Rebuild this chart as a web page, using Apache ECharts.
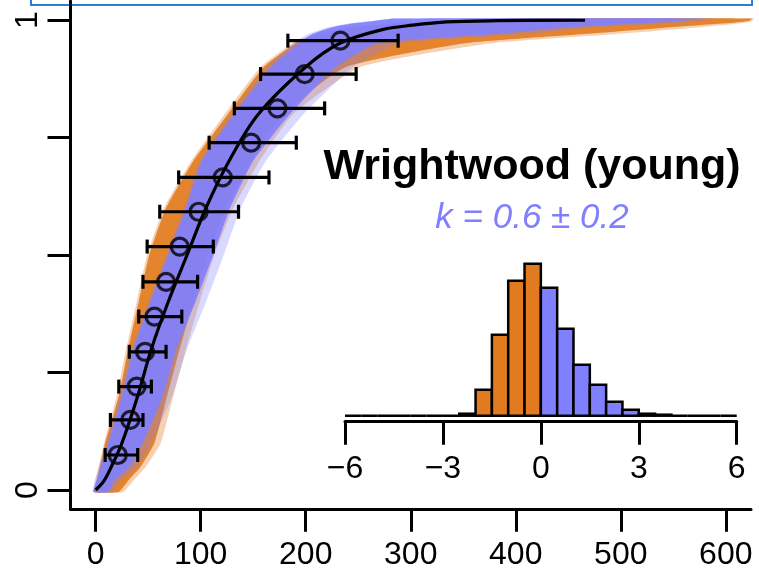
<!DOCTYPE html>
<html><head><meta charset="utf-8">
<script src="https://cdn.jsdelivr.net/npm/echarts@6/dist/echarts.min.js"></script>
<style>html,body{margin:0;padding:0;background:#fff}#c{width:759px;height:578px}</style>
</head><body><div id="c"></div>
<script>
// ---- axes ----
const xTicks = [0, 100, 200, 300, 400, 500, 600];
const yTicks = [0, 0.25, 0.5, 0.75, 1];
const yTickLabels = [0, 1];
const histTicks = [-6, -3, 0, 3, 6];

// ---- observed points with horizontal error bars ----
const ptY   = [0.0745, 0.149, 0.220, 0.294, 0.369, 0.443, 0.518, 0.592, 0.665, 0.739, 0.812, 0.885, 0.956];
const ptX   = [21, 33, 39, 47, 56, 67, 80, 98, 121, 148, 173, 199, 233];
const errLo = [9, 14, 22, 32, 41, 45, 49, 61, 79, 108, 132, 157, 183];
const errHi = [40, 45, 53, 67, 82, 97, 112, 136, 165, 191, 218, 248, 288];

// ---- best-fit curve (black) ----
const fitX = [0, 8, 15, 25, 40, 53, 69, 87, 105, 127, 155, 200, 232, 272, 302, 334, 382, 466];
const fitY = [0, 0.02, 0.05, 0.1, 0.2, 0.3, 0.4, 0.5, 0.6, 0.7, 0.8, 0.9, 0.95, 0.979, 0.989, 0.996, 0.9985, 0.9995];

// ---- sampled-curve envelopes (x at each cumulative level) ----
const levels          = [-0.004, 0.02, 0.05, 0.1, 0.2, 0.3, 0.4, 0.5, 0.6, 0.7, 0.8, 0.9, 0.95, 0.97, 0.985, 0.993, 0.998, 1.003];
const blueLeft        = [-2, 1, 5, 12, 25, 36, 52, 69, 86, 101, 132, 167, 193, 206, 226, 245, 265, 285];
const blueRight       = [12, 18, 33, 45, 64, 77, 95, 112, 128, 150, 185, 229, 268, 382, 455, 520, 560, 578];
const blueFringeLeft  = [-2, -1, 3, 10, 23, 34, 50, 67, 84, 99, 129, 163, 188, 202, 222, 242, 263, 285];
const blueFringeRight = [16, 24, 40, 53, 73, 87, 105, 122, 138, 162, 198, 245, 290, 410, 480, 545, 580, 590];
const orangeLeft        = [-2, 1, 4, 9, 22, 31, 41, 51, 67, 93, 126, 160, 190, 212, 245, 290, 340, 400];
const orangeRight       = [22, 31, 43, 56, 68, 80, 93, 107, 124, 148, 178, 238, 350, 465, 550, 600, 622, 625];
const orangeFringeLeft  = [-2, 0, 3, 8, 20, 29, 39, 49, 65, 91, 123, 157, 187, 209, 242, 286, 335, 395];
const orangeFringeRight = [26, 36, 48, 62, 74, 86, 99, 113, 131, 156, 188, 252, 375, 495, 578, 614, 625, 627];

// ---- inset histogram of k ----
const binEdges = [-6, -5.5, -5, -4.5, -4, -3.5, -3, -2.5, -2, -1.5, -1, -0.5, 0, 0.5, 1, 1.5, 2, 2.5, 3, 3.5, 4, 4.5, 5, 5.5, 6];
const binCounts = [0, 0, 0, 0, 0, 0, 0, 2, 26, 81, 135, 152, 128, 87, 51, 31, 14, 6, 2, 1, 0, 0, 0, 0];

const titleText = 'Wrightwood (young)';
const kText = 'k = 0.6 \u00b1 0.2';

const ORANGE = '#E27B1F';
const BLUE = '#8080FF';
const FONT = '"Liberation Sans", Arial, Helvetica, sans-serif';

function band(left, right, color, opacity) {
  return {
    type: 'custom', xAxisIndex: 0, yAxisIndex: 0, silent: true, animation: false,
    data: levels.map((y, i) => [left[i], y]),
    renderItem: function (params, api) {
      if (params.dataIndex !== 0) return null;
      const pts = [];
      for (let i = 0; i < levels.length; i++) pts.push(api.coord([left[i], levels[i]]));
      for (let i = levels.length - 1; i >= 0; i--) pts.push(api.coord([right[i], levels[i]]));
      return { type: 'polygon', shape: { points: pts, smooth: 0.15 }, style: { fill: color, opacity: opacity } };
    }
  };
}

const chart = echarts.init(document.getElementById('c'), null, { renderer: 'canvas' });
const axisLineStyle = { color: '#000', width: 3 };

chart.setOption({
  animation: false,
  backgroundColor: '#fff',
  grid: [
    { left: 70.5, top: 1.2, width: 680.5, height: 507.6 },
    { left: 345, top: 255.7, width: 391.7, height: 160 }
  ],
  xAxis: [
    { gridIndex: 0, type: 'value', min: -24, max: 624,
      axisLine: { show: true, onZero: false, lineStyle: axisLineStyle },
      axisTick: { show: true, customValues: xTicks, length: 23, lineStyle: axisLineStyle },
      axisLabel: { customValues: xTicks, fontSize: 32, color: '#000', margin: 30, fontFamily: FONT },
      splitLine: { show: false } },
    { gridIndex: 1, type: 'value', min: -6, max: 6, interval: 3, offset: 6,
      axisLine: { show: true, onZero: false, lineStyle: axisLineStyle },
      axisTick: { show: true, customValues: histTicks, length: 23, lineStyle: axisLineStyle },
      axisLabel: { customValues: histTicks, fontSize: 32, color: '#000', margin: 31, fontFamily: FONT,
        formatter: v => String(v).replace('-', '\u2212') },
      splitLine: { show: false } }
  ],
  yAxis: [
    { gridIndex: 0, type: 'value', min: -0.04, max: 1.04,
      axisLine: { show: true, onZero: false, lineStyle: axisLineStyle },
      axisTick: { show: true, customValues: yTicks, length: 23, lineStyle: axisLineStyle },
      axisLabel: { customValues: yTickLabels, rotate: 90, fontSize: 32, color: '#000', margin: 26, fontFamily: FONT },
      splitLine: { show: false } },
    { gridIndex: 1, type: 'value', min: 0, max: 160, show: false }
  ],
  series: [
    band(orangeFringeLeft, orangeFringeRight, ORANGE, 0.35),
    band(orangeLeft, orangeRight, ORANGE, 0.9),
    band(blueFringeLeft, blueFringeRight, BLUE, 0.3),
    band(blueLeft, blueRight, BLUE, 0.9),
    { type: 'line', xAxisIndex: 0, yAxisIndex: 0, data: fitX.map((x, i) => [x, fitY[i]]),
      smooth: 0.35, showSymbol: false, symbol: 'none',
      lineStyle: { color: '#000', width: 3.2 }, z: 3 },
    { type: 'custom', xAxisIndex: 0, yAxisIndex: 0, z: 4,
      data: ptY.map((y, i) => [errLo[i], errHi[i], y]),
      encode: { x: [0, 1], y: 2 },
      renderItem: function (params, api) {
        const a = api.coord([api.value(0), api.value(2)]);
        const b = api.coord([api.value(1), api.value(2)]);
        const h = 7;
        const st = { stroke: '#000', lineWidth: 3.2 };
        return { type: 'group', children: [
          { type: 'line', shape: { x1: a[0], y1: a[1], x2: b[0], y2: b[1] }, style: st },
          { type: 'line', shape: { x1: a[0], y1: a[1] - h, x2: a[0], y2: a[1] + h }, style: st },
          { type: 'line', shape: { x1: b[0], y1: b[1] - h, x2: b[0], y2: b[1] + h }, style: st }
        ] };
      } },
    { type: 'scatter', xAxisIndex: 0, yAxisIndex: 0, z: 5,
      data: ptX.map((x, i) => [x, ptY[i]]), symbol: 'circle', symbolSize: 17,
      itemStyle: { color: 'rgba(0,0,0,0)', borderColor: '#000', borderWidth: 3.2 } },
    { type: 'custom', xAxisIndex: 1, yAxisIndex: 1, z: 5,
      data: binCounts.map((c, i) => [binEdges[i], binEdges[i + 1], c]),
      encode: { x: [0, 1], y: 2 },
      renderItem: function (params, api) {
        const p0 = api.coord([api.value(0), api.value(2)]);
        const p1 = api.coord([api.value(1), 0]);
        return { type: 'rect',
          shape: { x: p0[0], y: p0[1], width: p1[0] - p0[0], height: p1[1] - p0[1] },
          style: { fill: api.value(0) < 0 ? ORANGE : BLUE, stroke: '#000', lineWidth: 2.5 } };
      } }
  ],
  graphic: [
    { type: 'rect', shape: { x: 31, y: -20, width: 721, height: 25 },
      style: { fill: 'none', stroke: '#2d7dd2', lineWidth: 2 } },
    { type: 'text', x: 532, y: 167, z: 10,
      style: { text: titleText, font: 'bold 43px ' + FONT, fill: '#000', align: 'center', verticalAlign: 'middle' } },
    { type: 'text', x: 532, y: 218, z: 10,
      style: { text: kText, font: 'italic 35px ' + FONT, fill: BLUE, align: 'center', verticalAlign: 'middle' } }
  ]
});
</script></body></html>
